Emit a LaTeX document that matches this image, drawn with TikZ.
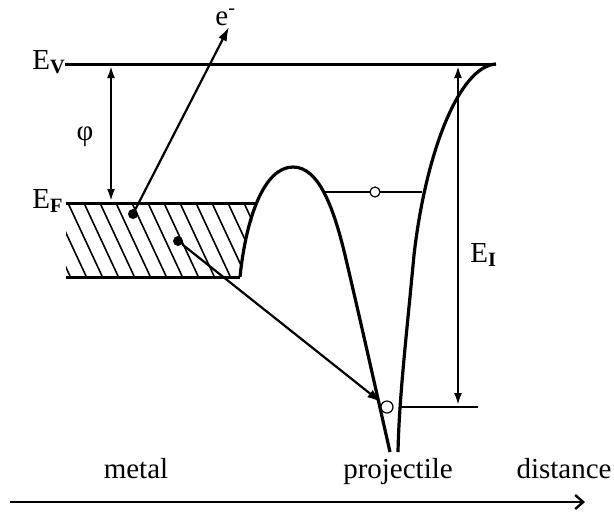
\documentclass[tikz,border=0pt]{standalone}
\usepackage{fontspec}
\setmainfont{Liberation Serif}
\usetikzlibrary{arrows.meta}

\tikzset{
  level/.style={line width=1.5pt},
  curve/.style={line width=1.6pt},
  thinline/.style={line width=0.8pt},
  hatch/.style={line width=0.8pt},
  dot/.style={circle, fill, inner sep=0pt, minimum size=5pt},
  hole/.style={circle, draw, fill=white, inner sep=0pt, line width=0.6pt},
  lbl/.style={inner sep=0pt},
  energy/.style={line width=1.1pt, arrows={Latex[length=6pt,width=4pt]-Latex[length=6pt,width=4pt]}},
  jump/.style={line width=1.1pt, arrows={-Latex[length=7pt,width=4.6pt]}}
}

\begin{document}
\begin{tikzpicture}[x=0.5pt,y=-0.5pt, font=\fontsize{14.5}{17}\selectfont]
\useasboundingbox (0,0) rectangle (614,511);

% vacuum level and Fermi level
\coordinate (vacwest) at (65,64);
\coordinate (vaceast) at (496,64);
\draw[level] (vacwest) -- (vaceast);
\node[lbl, anchor=base west] (evlabel) at (32,69) {E\textsubscript{\textbf{V}}};

% filled band of the metal
\begin{scope}
\clip (66,203) -- (258,203) -- (246,240) -- (240,277) -- (66,277) -- cycle;
\foreach \x in {20,36,...,260}
  \draw[hatch] (\x,203) -- ++(34,73);
\end{scope}
\coordinate (fermiwest) at (66,203);
\coordinate (fermieast) at (256,203);
\coordinate (bandwest) at (66,277);
\coordinate (bandeast) at (240,277);
\draw[level] (fermiwest) -- (fermieast);
\draw[level] (bandwest) -- (bandeast);
\node[lbl, anchor=base west] (eflabel) at (32,208) {E\textsubscript{\textbf{F}}};

% work function
\coordinate (phitop) at (111,66);
\coordinate (phibot) at (111,201);
\draw[energy] (phitop) -- (phibot);
\node[lbl] (philabel) at (85,137) {φ};

% barrier and projectile well
\draw[curve] (240,277) .. controls (246,218) and (264,167) .. (293,167)
  .. controls (318,167) and (333,205) .. (345,255)
  .. controls (358,310) and (376,390) .. (390,452);
\draw[curve] (496,64) .. controls (460,66) and (426,150) .. (414,255)
  .. controls (406,340) and (399,400) .. (398,452);

% excited level of the projectile
\coordinate (levelwest) at (325,192);
\coordinate (leveleast) at (422,192);
\draw[thinline] (levelwest) -- (leveleast);
\node[hole, minimum size=5pt] (levelhole) at (375,192) {};

% ground level of the projectile
\coordinate (groundwest) at (399,407);
\coordinate (groundeast) at (478,407);
\draw[thinline] (groundwest) -- (groundeast);
\node[hole, minimum size=6pt] (groundhole) at (387,407) {};

% ionisation energy
\coordinate (eitop) at (458,66);
\coordinate (eibot) at (458,405);
\draw[energy] (eitop) -- (eibot);
\node[lbl, anchor=base west] (eilabel) at (470,262) {E\textsubscript{\textbf{I}}};

% electrons
\node[dot] (emitdot) at (133,214) {};
\node[dot] (capdot) at (178,241) {};
\coordinate (etip) at (229,27);
\draw[jump] (emitdot) -- (etip);
\node[lbl, anchor=base west] (elabel) at (215,25) {e\textsuperscript{-}};
\draw[jump, shorten >=0.5pt] (capdot) -- (groundhole);

% distance axis
\coordinate (axwest) at (10,502);
\coordinate (axeast) at (585,502);
\draw[line width=1.2pt, arrows={-Straight Barb[length=4pt,width=7pt]}] (axwest) -- (axeast);
\node[lbl, anchor=base] (metallabel) at (136,478) {metal};
\node[lbl, anchor=base] (projlabel) at (398,478) {projectile};
\node[lbl, anchor=base] (distlabel) at (564,478) {distance};
\end{tikzpicture}
\end{document}
